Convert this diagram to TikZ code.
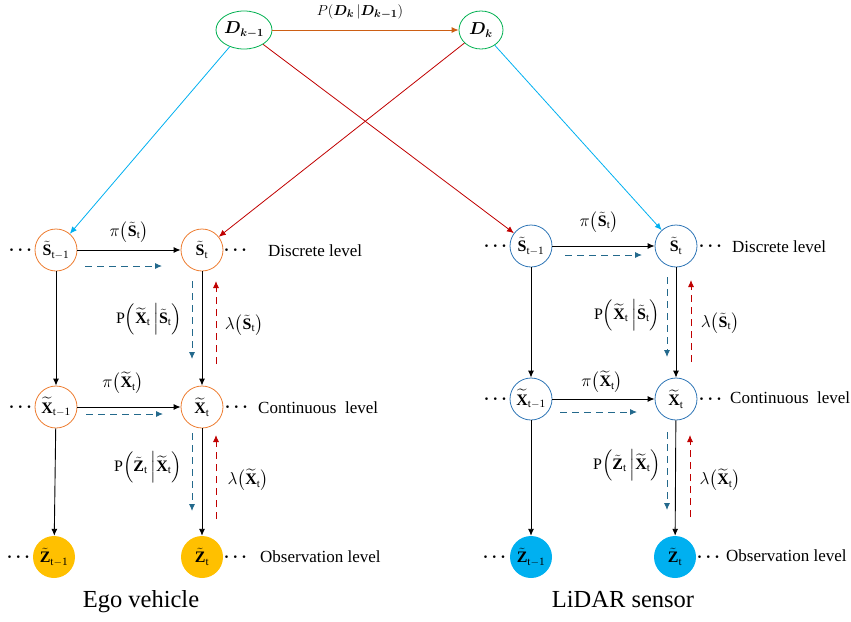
\documentclass[tikz,border=0pt]{standalone}
\usepackage{amsmath,bm}
\usepackage{fontspec}
\setmainfont{Liberation Serif}
\usetikzlibrary{arrows.meta,shapes.geometric}
\definecolor{corange}{RGB}{237,125,49}
\definecolor{cblue}{RGB}{46,117,182}
\definecolor{cgreen}{RGB}{0,176,80}
\definecolor{cyel}{RGB}{255,192,0}
\definecolor{ccyan}{RGB}{0,176,240}
\definecolor{cred}{RGB}{192,0,0}
\definecolor{cteal}{RGB}{35,105,140}
\definecolor{cdorange}{RGB}{205,95,20}
\newcommand{\St}{\tilde{\mathbf{S}}}
\newcommand{\Xt}{\widetilde{\mathbf{X}}}
\newcommand{\Zt}{\tilde{\mathbf{Z}}}
\begin{document}
\begin{tikzpicture}[x=1pt,y=-1pt,
  lnode/.style={circle,draw=corange,line width=0.8pt,minimum size=42pt,inner sep=0pt,font=\fontsize{16}{18}\selectfont},
  rnode/.style={circle,draw=cblue,line width=0.8pt,minimum size=42pt,inner sep=0pt,font=\fontsize{16}{18}\selectfont},
  lobs/.style={circle,fill=cyel,minimum size=42pt,inner sep=0pt,font=\fontsize{16}{18}\selectfont},
  robs/.style={circle,fill=ccyan,minimum size=42pt,inner sep=0pt,font=\fontsize{16}{18}\selectfont},
  dnode/.style={ellipse,draw=cgreen,line width=0.8pt,minimum width=44pt,minimum height=38pt,inner sep=0pt,font=\fontsize{16}{18}\selectfont},
  solidarr/.style={-{Latex[length=7pt,width=6pt]},line width=0.9pt,black},
  fwd/.style={-{Latex[length=7pt,width=6pt]},line width=0.9pt,cteal,dash pattern=on 7pt off 5pt},
  bwd/.style={-{Latex[length=7pt,width=6pt]},line width=0.9pt,cred,dash pattern=on 7pt off 5pt},
  lbl/.style={font=\fontsize{16}{18}\selectfont,inner sep=0pt},
  lvl/.style={font=\fontsize{17}{19}\selectfont,anchor=west,inner sep=0pt},
  dots/.style={font=\fontsize{18}{20}\selectfont,inner sep=0pt},
  title/.style={font=\fontsize{24.5}{26}\selectfont,inner sep=0pt}
]
\useasboundingbox (0,0) rectangle (851,621);

% top nodes
\node[dnode] (dk1) at (244,30) {$\bm{D_{k-1}}$};
\node[dnode] (dk) at (481,30) {$\bm{D_{k}}$};
\draw[-{Latex[length=7pt,width=6pt]},line width=0.9pt,cdorange] (dk1) -- (dk);
\node[lbl,font=\fontsize{15}{17}\selectfont] (pd) at (360,12) {$P(\bm{D_k}\,|\bm{D_{k-1}})$};

% left panel
\node[lnode] (ls1) at (56,250) {$\St_{\mathrm{t-1}}$};
\node[lnode] (ls) at (202,250) {$\St_{\mathrm{t}}$};
\node[lnode] (lx1) at (56,407) {$\Xt_{\mathrm{t-1}}$};
\node[lnode] (lx) at (202,407) {$\Xt_{\mathrm{t}}$};
\node[lobs] (lz1) at (54,557) {$\Zt_{\mathrm{t-1}}$};
\node[lobs] (lz) at (202,557) {$\Zt_{\mathrm{t}}$};

% right panel
\node[rnode] (rs1) at (531,246) {$\St_{\mathrm{t-1}}$};
\node[rnode] (rs) at (676,246) {$\St_{\mathrm{t}}$};
\node[rnode] (rx1) at (531,399) {$\Xt_{\mathrm{t-1}}$};
\node[rnode] (rx) at (676,399) {$\Xt_{\mathrm{t}}$};
\node[robs] (rz1) at (531,557) {$\Zt_{\mathrm{t-1}}$};
\node[robs] (rz) at (675,557) {$\Zt_{\mathrm{t}}$};

% top connections
\draw[-{Latex[length=7pt,width=6pt]},line width=0.8pt,ccyan] (dk1) -- (ls1);
\draw[-{Latex[length=7pt,width=6pt]},line width=0.8pt,cred] (dk1) -- (rs1);
\draw[-{Latex[length=7pt,width=6pt]},line width=0.8pt,cred] (dk) -- (ls);
\draw[-{Latex[length=7pt,width=6pt]},line width=0.8pt,ccyan] (dk) -- (rs);

% left solid arrows
\draw[solidarr] (ls1) -- (ls);
\draw[solidarr] (lx1) -- (lx);
\draw[solidarr] (ls1) -- (lx1);
\draw[solidarr] (ls) -- (lx);
\draw[solidarr] (lx1) -- (lz1);
\draw[solidarr] (lx) -- (lz);

% right solid arrows
\draw[solidarr] (rs1) -- (rs);
\draw[solidarr] (rx1) -- (rx);
\draw[solidarr] (rs1) -- (rx1);
\draw[solidarr] (rs) -- (rx);
\draw[solidarr] (rx1) -- (rz1);
\draw[solidarr] (rx) -- (rz);

% left dashed messages
\coordinate (la1) at (85,266); \coordinate (la2) at (162,266);
\coordinate (lb1) at (86,414); \coordinate (lb2) at (163,414);
\coordinate (lc1) at (192,281); \coordinate (lc2) at (192,359);
\coordinate (ld1) at (216,364); \coordinate (ld2) at (216,281);
\coordinate (le1) at (192,433); \coordinate (le2) at (192,511);
\coordinate (lf1) at (216,519); \coordinate (lf2) at (216,435);
\draw[fwd] (la1) -- (la2);
\draw[fwd] (lb1) -- (lb2);
\draw[fwd] (lc1) -- (lc2);
\draw[bwd] (ld1) -- (ld2);
\draw[fwd] (le1) -- (le2);
\draw[bwd] (lf1) -- (lf2);

% right dashed messages
\coordinate (ra1) at (565,255); \coordinate (ra2) at (642,255);
\coordinate (rb1) at (560,412); \coordinate (rb2) at (637,412);
\coordinate (rc1) at (667,277); \coordinate (rc2) at (667,357);
\coordinate (rd1) at (691,362); \coordinate (rd2) at (691,280);
\coordinate (re1) at (667,432); \coordinate (re2) at (667,510);
\coordinate (rf1) at (690,517); \coordinate (rf2) at (690,435);
\draw[fwd] (ra1) -- (ra2);
\draw[fwd] (rb1) -- (rb2);
\draw[fwd] (rc1) -- (rc2);
\draw[bwd] (rd1) -- (rd2);
\draw[fwd] (re1) -- (re2);
\draw[bwd] (rf1) -- (rf2);

% left labels
\node[lbl] (lpis) at (129,232) {$\pi\big(\St_{\mathrm{t}}\big)$};
\node[lbl] (lpix) at (123,383) {$\pi\big(\Xt_{\mathrm{t}}\big)$};
\node[lbl] (lpxs) at (149,319) {$\mathrm{P}\Big(\Xt_{\mathrm{t}}\,\Big|\St_{\mathrm{t}}\Big)$};
\node[lbl] (llas) at (244,325) {$\lambda\big(\St_{\mathrm{t}}\big)$};
\node[lbl] (lpzx) at (148,467) {$\mathrm{P}\Big(\Zt_{\mathrm{t}}\,\Big|\Xt_{\mathrm{t}}\Big)$};
\node[lbl] (llax) at (248,480) {$\lambda\big(\Xt_{\mathrm{t}}\big)$};

% right labels
\node[lbl] (rpis) at (599,222) {$\pi\big(\St_{\mathrm{t}}\big)$};
\node[lbl] (rpix) at (602,382) {$\pi\big(\Xt_{\mathrm{t}}\big)$};
\node[lbl] (rpxs) at (627,315) {$\mathrm{P}\Big(\Xt_{\mathrm{t}}\,\Big|\St_{\mathrm{t}}\Big)$};
\node[lbl] (rlas) at (720,323) {$\lambda\big(\St_{\mathrm{t}}\big)$};
\node[lbl] (rpzx) at (627,465) {$\mathrm{P}\Big(\Zt_{\mathrm{t}}\,\Big|\Xt_{\mathrm{t}}\Big)$};
\node[lbl] (rlax) at (720,480) {$\lambda\big(\Xt_{\mathrm{t}}\big)$};

% dots
\node[dots] (d1) at (22,250) {$\bm{\cdots}$};
\node[dots] (d2) at (237,250) {$\bm{\cdots}$};
\node[dots] (d3) at (22,407) {$\bm{\cdots}$};
\node[dots] (d4) at (238,407) {$\bm{\cdots}$};
\node[dots] (d5) at (20,557) {$\bm{\cdots}$};
\node[dots] (d6) at (237,557) {$\bm{\cdots}$};
\node[dots] (d7) at (497,246) {$\bm{\cdots}$};
\node[dots] (d8) at (712,246) {$\bm{\cdots}$};
\node[dots] (d9) at (497,399) {$\bm{\cdots}$};
\node[dots] (d10) at (712,399) {$\bm{\cdots}$};
\node[dots] (d11) at (496,557) {$\bm{\cdots}$};
\node[dots] (d12) at (710,557) {$\bm{\cdots}$};

% level labels
\node[lvl] (t1) at (268,251) {Discrete level};
\node[lvl] (t2) at (258,408) {Continuous\ \ level};
\node[lvl] (t3) at (260,557) {Observation level};
\node[lvl] (t4) at (732,247) {Discrete level};
\node[lvl] (t5) at (730,398) {Continuous\ \ level};
\node[lvl] (t6) at (726,556) {Observation level};

\node[title] (ego) at (141,602) {Ego vehicle};
\node[title] (lid) at (623,600) {LiDAR sensor};
\end{tikzpicture}
\end{document}
